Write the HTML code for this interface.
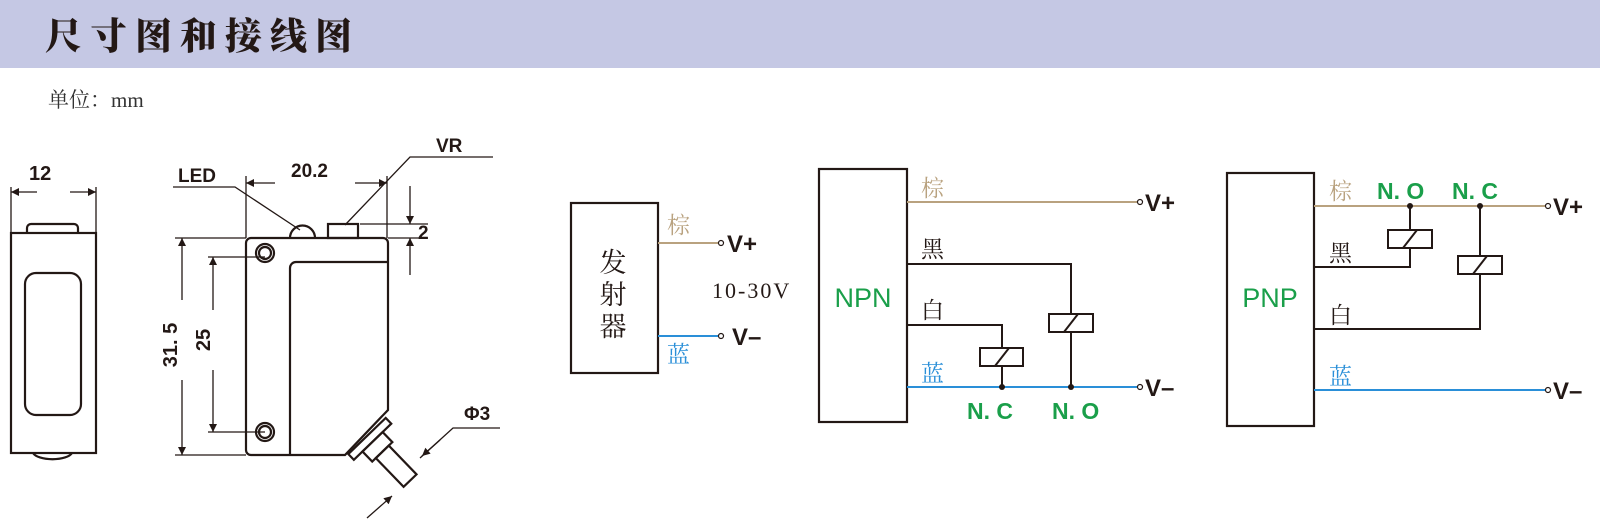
<!DOCTYPE html>
<html><head><meta charset="utf-8"><style>
html,body{margin:0;padding:0;background:#fff;}
svg{display:block;}
.cjk{font-family:"Liberation Serif","Noto Serif CJK SC","Noto Sans CJK SC",serif;}
.b{font-family:"Liberation Sans",sans-serif;font-weight:bold;}
</style></head><body>
<svg width="1600" height="519" viewBox="0 0 1600 519" xmlns="http://www.w3.org/2000/svg">
<defs>
<marker id="ar" viewBox="0 0 10 10" refX="10" refY="5" markerWidth="14" markerHeight="8" orient="auto-start-reverse" markerUnits="userSpaceOnUse"><path d="M0,0L10,5L0,10z" fill="#231815"/></marker>
</defs>
<rect x="0" y="0" width="1600" height="68" fill="#c5c8e4"/>
<text x="45" y="49" font-size="37" font-weight="900" letter-spacing="8" fill="#231815" font-family="'Noto Serif CJK SC','Noto Sans CJK SC',serif">尺寸图和接线图</text>
<text x="48" y="107" font-size="21" fill="#333" class="cjk">单位：mm</text>

<g stroke="#231815" fill="none" stroke-width="2.2">
<rect x="11" y="233" width="85" height="220"/>
<path d="M27,233 v-5 a4,4 0 0 1 4,-4 h43 a4,4 0 0 1 4,4 v5"/>
<rect x="25" y="273" width="56" height="142" rx="11"/>
<path d="M33,453 a20,8 0 0 0 39,0"/>
</g>
<g stroke="#231815" fill="none" stroke-width="1.3">
<line x1="11" y1="187" x2="11" y2="233"/><line x1="96" y1="187" x2="96" y2="233"/>
<line x1="11" y1="192" x2="37" y2="192" marker-start="url(#ar)"/>
<line x1="70" y1="192" x2="96" y2="192" marker-end="url(#ar)"/>
</g>
<text x="29" y="180" font-size="20" class="b" fill="#231815">12</text>

<g stroke="#231815" fill="none" stroke-width="2.2">
<path d="M251,238 H383 a5,5 0 0 1 5,5 V410 L345,455 H251 a5,5 0 0 1 -5,-5 V243 a5,5 0 0 1 5,-5z"/>
<path d="M290,455 V268 a6,6 0 0 1 6,-6 H388"/>
<path d="M290,238 a12,12 0 0 1 25,0"/>
<rect x="328" y="224" width="30" height="14"/>
<circle cx="265" cy="253" r="9"/><circle cx="265" cy="253" r="6"/>
<circle cx="265" cy="432" r="9"/><circle cx="265" cy="432" r="6"/>
<g transform="translate(367,436) rotate(46)">
<rect x="0" y="-26" width="8" height="52"/>
<rect x="8" y="-14" width="14" height="28"/>
<rect x="22" y="-9" width="40" height="18"/>
</g>
</g>
<g stroke="#231815" fill="none" stroke-width="1.3">
<line x1="246" y1="176" x2="246" y2="238"/><line x1="387" y1="176" x2="387" y2="238"/>
<line x1="246" y1="183" x2="275" y2="183" marker-start="url(#ar)"/>
<line x1="355" y1="183" x2="387" y2="183" marker-end="url(#ar)"/>
<polyline points="173,187 235,187 300,230"/>
<polyline points="345,225 410,157 493,157"/>
<line x1="360" y1="224" x2="428" y2="224"/><line x1="388" y1="238" x2="428" y2="238"/>
<line x1="410" y1="186" x2="410" y2="224" marker-end="url(#ar)"/>
<line x1="410" y1="275" x2="410" y2="238" marker-end="url(#ar)"/>
<line x1="175" y1="238" x2="246" y2="238"/><line x1="175" y1="455" x2="246" y2="455"/>
<line x1="182" y1="238" x2="182" y2="300" marker-start="url(#ar)"/>
<line x1="182" y1="380" x2="182" y2="455" marker-end="url(#ar)"/>
<line x1="208" y1="257" x2="265" y2="257"/><line x1="208" y1="432" x2="265" y2="432"/>
<line x1="213" y1="257" x2="213" y2="310" marker-start="url(#ar)"/>
<line x1="213" y1="370" x2="213" y2="432" marker-end="url(#ar)"/>
<polyline points="500,428 453,428 420,458" /><line x1="440" y1="440" x2="422" y2="456" marker-end="url(#ar)"/>
<line x1="367" y1="518" x2="392" y2="496" marker-end="url(#ar)"/>
</g>
<text x="178" y="182" font-size="19" class="b" fill="#231815">LED</text>
<text x="291" y="177" font-size="19" class="b" fill="#231815">20.2</text>
<text x="436" y="152" font-size="19" class="b" fill="#231815">VR</text>
<text x="418" y="239" font-size="19" class="b" fill="#231815">2</text>
<text x="464" y="420" font-size="19" class="b" fill="#231815">Φ3</text>
<text transform="translate(177,345) rotate(-90)" font-size="20" class="b" fill="#231815" text-anchor="middle">31. 5</text>
<text transform="translate(210,340) rotate(-90)" font-size="20" class="b" fill="#231815" text-anchor="middle">25</text>

<rect x="571" y="203" width="87" height="170" fill="none" stroke="#231815" stroke-width="2.2"/>
<g font-size="27" class="cjk" fill="#231815" text-anchor="middle">
<text x="613" y="272">发</text><text x="613" y="304">射</text><text x="613" y="336">器</text></g>
<line x1="658" y1="243" x2="718" y2="243" stroke="#b9a27f" stroke-width="2"/>
<circle cx="721" cy="243" r="2.5" fill="#fff" stroke="#231815" stroke-width="1.2"/>
<line x1="658" y1="336" x2="718" y2="336" stroke="#2a8fd8" stroke-width="2"/>
<circle cx="721" cy="336" r="2.5" fill="#fff" stroke="#231815" stroke-width="1.2"/>
<text x="667" y="233" font-size="23" class="cjk" fill="#b9a27f">棕</text>
<text x="667" y="362" font-size="23" class="cjk" fill="#2a8fd8">蓝</text>
<text x="727" y="252" font-size="24" class="b" fill="#231815">V+</text>
<text x="732" y="345" font-size="24" class="b" fill="#231815">V–</text>
<text x="712" y="298" font-size="22" font-family="'Liberation Serif',serif" fill="#231815" letter-spacing="2">10-30V</text>

<rect x="819" y="169" width="88" height="253" fill="none" stroke="#231815" stroke-width="2.2"/>
<text x="863" y="307" font-size="27" font-family="'Liberation Sans',sans-serif" fill="#1a9f4a" text-anchor="middle">NPN</text>
<line x1="907" y1="202" x2="1137" y2="202" stroke="#b9a27f" stroke-width="2"/>
<line x1="907" y1="387" x2="1137" y2="387" stroke="#2a8fd8" stroke-width="2"/>
<g stroke="#231815" fill="none" stroke-width="2">
<polyline points="907,264 1071,264 1071,387"/>
<polyline points="907,325 1002,325 1002,387"/>
<rect x="1049" y="314" width="44" height="18" fill="#fff"/><line x1="1064" y1="332" x2="1078" y2="314"/>
<rect x="980" y="348" width="43" height="18" fill="#fff"/><line x1="995" y1="366" x2="1009" y2="348"/>
</g>
<circle cx="1002" cy="387" r="3" fill="#231815"/><circle cx="1071" cy="387" r="3" fill="#231815"/>
<circle cx="1140" cy="202" r="2.5" fill="#fff" stroke="#231815" stroke-width="1.2"/>
<circle cx="1140" cy="387" r="2.5" fill="#fff" stroke="#231815" stroke-width="1.2"/>
<text x="1145" y="211" font-size="24" class="b" fill="#231815">V+</text>
<text x="1145" y="396" font-size="24" class="b" fill="#231815">V–</text>
<g font-size="23" class="cjk">
<text x="921" y="196" fill="#b9a27f">棕</text>
<text x="921" y="257" fill="#231815">黑</text>
<text x="921" y="318" fill="#231815">白</text>
<text x="921" y="381" fill="#2a8fd8">蓝</text></g>
<text x="967" y="419" font-size="23" class="b" fill="#1a9f4a">N. C</text>
<text x="1052" y="419" font-size="23" class="b" fill="#1a9f4a">N. O</text>

<rect x="1227" y="173" width="87" height="253" fill="none" stroke="#231815" stroke-width="2.2"/>
<text x="1270" y="307" font-size="27" font-family="'Liberation Sans',sans-serif" fill="#1a9f4a" text-anchor="middle">PNP</text>
<line x1="1314" y1="206" x2="1545" y2="206" stroke="#b9a27f" stroke-width="2"/>
<line x1="1314" y1="390" x2="1545" y2="390" stroke="#2a8fd8" stroke-width="2"/>
<g stroke="#231815" fill="none" stroke-width="2">
<polyline points="1314,267 1410,267 1410,206"/>
<polyline points="1314,329 1480,329 1480,206"/>
<rect x="1388" y="230" width="44" height="18" fill="#fff"/><line x1="1403" y1="248" x2="1417" y2="230"/>
<rect x="1458" y="256" width="44" height="18" fill="#fff"/><line x1="1473" y1="274" x2="1487" y2="256"/>
</g>
<circle cx="1410" cy="206" r="3" fill="#231815"/><circle cx="1480" cy="206" r="3" fill="#231815"/>
<circle cx="1548" cy="206" r="2.5" fill="#fff" stroke="#231815" stroke-width="1.2"/>
<circle cx="1548" cy="390" r="2.5" fill="#fff" stroke="#231815" stroke-width="1.2"/>
<text x="1553" y="215" font-size="24" class="b" fill="#231815">V+</text>
<text x="1553" y="399" font-size="24" class="b" fill="#231815">V–</text>
<g font-size="23" class="cjk">
<text x="1329" y="199" fill="#b9a27f">棕</text>
<text x="1329" y="261" fill="#231815">黑</text>
<text x="1329" y="323" fill="#231815">白</text>
<text x="1329" y="384" fill="#2a8fd8">蓝</text></g>
<text x="1377" y="199" font-size="23" class="b" fill="#1a9f4a">N. O</text>
<text x="1452" y="199" font-size="23" class="b" fill="#1a9f4a">N. C</text>
</svg>
</body></html>
